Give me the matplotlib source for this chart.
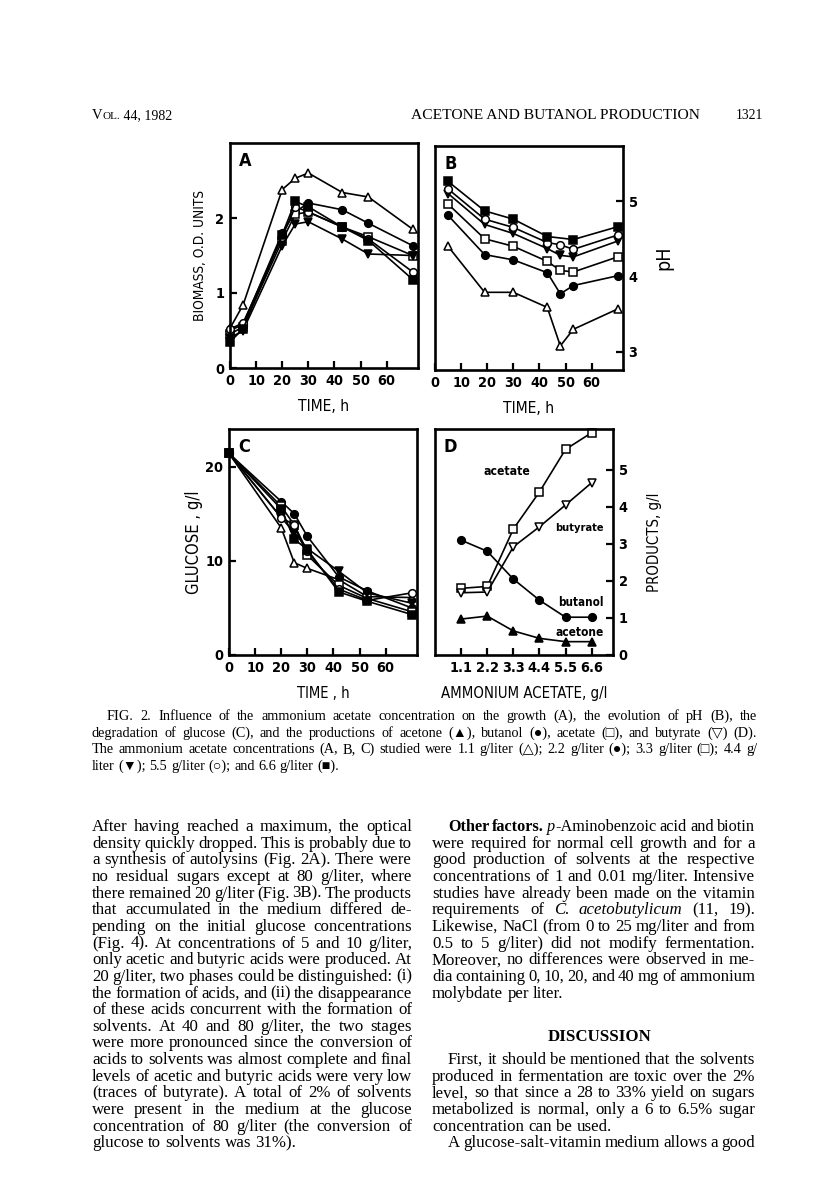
import re
import matplotlib
matplotlib.use('Agg')
import matplotlib.pyplot as plt
from matplotlib import font_manager as fm
import numpy as np

W, H = 816, 1200

# ---------------- data ----------------
# A : biomass (O.D.) vs time for the 6 ammonium acetate concentrations
a_time = [0, 5, 20, 25, 30, 43, 53, 70]
a_11 = [0.53, 0.84, 2.38, 2.53, 2.60, 2.34, 2.28, 1.85]
a_22 = [0.50, 0.58, 1.80, 2.08, 2.20, 2.11, 1.93, 1.63]
a_33 = [0.45, 0.55, 1.70, 2.05, 2.08, 1.88, 1.75, 1.50]
a_44 = [0.40, 0.50, 1.63, 1.92, 1.95, 1.72, 1.52, 1.50]
a_55 = [0.52, 0.60, 1.75, 2.15, 2.08, 1.88, 1.72, 1.28]
a_66 = [0.35, 0.52, 1.78, 2.22, 2.15, 1.88, 1.70, 1.18]

# B : pH vs time
b_time = [5, 19, 30, 43, 48, 53, 70]
b_11 = [4.40, 3.79, 3.79, 3.59, 3.08, 3.30, 3.57]
b_22 = [4.81, 4.29, 4.22, 4.05, 3.77, 3.88, 4.01]
b_33 = [4.96, 4.50, 4.40, 4.20, 4.08, 4.06, 4.26]
b_44 = [5.10, 4.69, 4.57, 4.37, 4.28, 4.26, 4.47]
b_55 = [5.16, 4.76, 4.65, 4.45, 4.42, 4.36, 4.55]
b_66 = [5.26, 4.87, 4.76, 4.53, np.nan, 4.49, 4.66]

# C : glucose vs time
c_time = [0, 20, 25, 30, 42, 53, 70]
c_11 = [21.4, 13.5, 9.8, 9.2, 8.0, 6.2, 6.1]
c_22 = [21.4, 16.3, 15.0, 12.6, 8.3, 6.8, 5.0]
c_33 = [21.4, 15.8, 13.8, 10.6, 7.4, 6.0, 4.6]
c_44 = [21.4, 14.6, 13.0, 11.3, 8.9, 6.6, 5.5]
c_55 = [21.4, 14.6, 13.8, 11.0, 7.0, 5.8, 6.6]
c_66 = [21.4, 15.5, 12.3, 11.2, 6.7, 5.7, 4.3]

# D : products vs ammonium acetate
d_conc = [1.1, 2.2, 3.3, 4.4, 5.5, 6.6]
d_acetate = [1.80, 1.85, 3.40, 4.40, 5.55, 6.00]
d_butyrate = [1.68, 1.70, 2.92, 3.46, 4.05, 4.65]
d_butanol = [3.10, 2.80, 2.05, 1.48, 1.02, 1.02]
d_acetone = [0.97, 1.05, 0.65, 0.45, 0.36, 0.36]

time_ticks = [0, 10, 20, 30, 40, 50, 60]
conc_labels = ['1.1', '2.2', '3.3', '4.4', '5.5', '6.6']

# marker style per concentration: (marker, filled)
styles = [('^', False), ('o', True), ('s', False), ('v', True), ('o', False), ('s', True)]

# ---------------- fonts ----------------
ttf = fm.fontManager.ttflist
if any(f.name == 'Liberation Sans Narrow' for f in ttf):
    CH_FAM, CH_STRETCH = 'Liberation Sans Narrow', 'normal'
elif any(f.name == 'DejaVu Sans' and f.stretch == 'condensed' for f in ttf):
    CH_FAM, CH_STRETCH = 'DejaVu Sans', 'condensed'
else:
    CH_FAM, CH_STRETCH = 'Liberation Sans', 'normal'
CHART = [CH_FAM, 'DejaVu Sans']
SERIF = ['Liberation Serif', 'DejaVu Serif']
plt.rcParams['font.family'] = CHART
plt.rcParams['font.stretch'] = CH_STRETCH
plt.rcParams['font.weight'] = 'bold'

fig = plt.figure(figsize=(W / 100, H / 100), dpi=100)
renderer = fig.canvas.get_renderer()


def measure(txt, size, family=SERIF, weight='normal', style='normal', stretch='normal'):
    t = fig.text(0, 0, txt, fontsize=size, family=family, weight=weight,
                 style=style, stretch=stretch)
    w = t.get_window_extent(renderer).width
    t.remove()
    return w


def chart_size(txt, target_px):
    # font size giving the wanted width in the chart lettering
    return 10 * target_px / measure(txt, 10, CHART, 'bold', stretch=CH_STRETCH)


def axes_px(l, t, r, b):
    return fig.add_axes([l / W, 1 - b / H, (r - l) / W, (b - t) / H])


TICK = chart_size('60', 18)


def frame(ax):
    for s in ax.spines.values():
        s.set_linewidth(1.9)
    ax.tick_params(direction='in', length=5, width=1.6, labelsize=TICK, pad=4)


def series(ax, x, y, marker, filled):
    x = np.asarray(x, float)
    y = np.asarray(y, float)
    ok = np.isfinite(y)
    ax.plot(x[ok], y[ok], '-', color='black', lw=1.2, marker=marker, ms=5.5,
            mfc='black' if filled else 'white', mec='black', mew=1.1, clip_on=False)


def xlab(ax, txt, width):
    ax.set_xlabel(txt, fontsize=chart_size(txt, width), labelpad=8)


def ylab(ax, txt, width, pad):
    ax.set_ylabel(txt, fontsize=chart_size(txt, width), labelpad=pad)


# ---- A ----
axA = axes_px(230, 143, 418, 368)
for ys, (m, f) in zip([a_11, a_22, a_33, a_44, a_55, a_66], styles):
    series(axA, a_time, ys, m, f)
axA.set_xlim(0, 72)
axA.set_ylim(0, 3)
axA.set_xticks(time_ticks)
axA.set_yticks([0, 1, 2])
frame(axA)
xlab(axA, 'TIME, h', 58)
ylab(axA, 'BIOMASS, O.D. UNITS', 148, 6)
axA.text(0.05, 0.96, 'A', transform=axA.transAxes, fontsize=13, va='top')

# ---- B ----
axB = axes_px(435, 146, 623, 370)
for ys, (m, f) in zip([b_11, b_22, b_33, b_44, b_55, b_66], styles):
    series(axB, b_time, ys, m, f)
axB.set_xlim(0, 72)
axB.set_ylim(2.76, 5.73)
axB.set_xticks(time_ticks)
axB.set_yticks([3, 4, 5])
frame(axB)
axB.yaxis.tick_right()
axB.tick_params(axis='y', direction='in', length=5)
axB.yaxis.set_label_position('right')
axB.set_ylabel('pH', fontsize=14, labelpad=12)
xlab(axB, 'TIME, h', 58)
axB.text(0.05, 0.96, 'B', transform=axB.transAxes, fontsize=13, va='top')

# ---- C ----
axC = axes_px(229, 429, 417, 655)
for ys, (m, f) in zip([c_11, c_22, c_33, c_44, c_55, c_66], styles):
    series(axC, c_time, ys, m, f)
axC.set_xlim(0, 72)
axC.set_ylim(0, 24)
axC.set_xticks(time_ticks)
axC.set_yticks([0, 10, 20])
frame(axC)
xlab(axC, 'TIME , h', 60)
ylab(axC, 'GLUCOSE , g/l', 114, 2)
axC.text(0.05, 0.96, 'C', transform=axC.transAxes, fontsize=13, va='top')

# ---- D ----
axD = axes_px(435, 429, 613, 655)
series(axD, d_conc, d_acetate, 's', False)
series(axD, d_conc, d_butyrate, 'v', False)
series(axD, d_conc, d_butanol, 'o', True)
series(axD, d_conc, d_acetone, '^', True)
axD.set_xlim(0, 7.5)
axD.set_ylim(0, 6.1)
axD.set_xticks(d_conc)
axD.set_xticklabels(conc_labels)
axD.set_yticks([0, 1, 2, 3, 4, 5])
frame(axD)
axD.yaxis.tick_right()
axD.tick_params(axis='y', direction='in', length=5)
axD.yaxis.set_label_position('right')
ylab(axD, 'PRODUCTS, g/l', 110, 14)
xlab(axD, 'AMMONIUM ACETATE, g/l', 186)
axD.text(0.05, 0.96, 'D', transform=axD.transAxes, fontsize=13, va='top')
for name, x, y, wpx in [('acetate', 2.03, 4.95, 46), ('butyrate', 5.08, 3.43, 48),
                        ('butanol', 5.20, 1.43, 45), ('acetone', 5.08, 0.62, 48)]:
    axD.text(x, y, name, fontsize=chart_size(name, wpx), va='center')


# ---------------- page text ----------------
def parse(word):
    out = []
    for p in re.split(r'(\*\*[^*]+\*\*|\*[^*]+\*)', word):
        if not p:
            continue
        if p.startswith('**'):
            out.append((p[2:-2], 'b'))
        elif p.startswith('*'):
            out.append((p[1:-1], 'i'))
        else:
            out.append((p, 'n'))
    return out


def wmeas(t, size, s):
    return measure(t, size, SERIF, 'bold' if s == 'b' else 'normal',
                   'italic' if s == 'i' else 'normal')


def put_line(line, x0, x1, ybase, size, justify=True):
    words = [parse(w) for w in line.split()]
    while True:
        widths = [sum(wmeas(t, size, s) for t, s in w) for w in words]
        space = wmeas('a a', size, 'n') - wmeas('aa', size, 'n')
        if not justify or len(words) < 2:
            break
        if sum(widths) + 0.6 * space * (len(words) - 1) <= x1 - x0:
            break
        size *= 0.98
    if justify and len(words) > 1:
        gap = (x1 - x0 - sum(widths)) / (len(words) - 1)
    else:
        gap = space
    x = x0
    for w, wd in zip(words, widths):
        xx = x
        for t, s in w:
            fig.text(xx / W, 1 - ybase / H, t, fontsize=size, family=SERIF, va='baseline',
                     weight='bold' if s == 'b' else 'normal',
                     style='italic' if s == 'i' else 'normal', stretch='normal')
            xx += wmeas(t, size, s)
        x += wd + gap


def put_plain(txt, x, ybase, size, weight='normal', ha='left'):
    fig.text(x / W, 1 - ybase / H, txt, fontsize=size, family=SERIF, weight=weight,
             ha=ha, va='baseline', stretch='normal')
    return measure(txt, size, SERIF, weight)


def fit(txt, width):
    return 10 * width / measure(txt, 10)


# header (small caps "Vol.")
x = 92
x += put_plain('V', x, 119, 10.5)
x += put_plain('OL.', x, 119, 8.0)
put_plain(' 44, 1982', x, 119, 10)
put_plain('ACETONE AND BUTANOL PRODUCTION', 411, 119, fit('ACETONE AND BUTANOL PRODUCTION', 289))
put_plain('1321', 736, 119, 9.8)

# caption
caption = [
    'FIG. 2. Influence of the ammonium acetate concentration on the growth (A), the evolution of pH (B), the',
    'degradation of glucose (C), and the productions of acetone (\u25b2), butanol (\u25cf), acetate (\u25a1), and butyrate (\u25bd) (D).',
    'The ammonium acetate concentrations (A, B, C) studied were 1.1 g/liter (\u25b3); 2.2 g/liter (\u25cf); 3.3 g/liter (\u25a1); 4.4 g/',
    'liter (\u25bc); 5.5 g/liter (\u25cb); and 6.6 g/liter (\u25a0).',
]
for i, line in enumerate(caption):
    x0 = 107 if i == 0 else 92
    put_line(line, x0, 757, 720 + i * 16.6, 10.3, justify=(i < 3))

BODY = 12.2
LS = 16.65

# body, left column
left = [
    'After having reached a maximum, the optical',
    'density quickly dropped. This is probably due to',
    'a synthesis of autolysins (Fig. 2A). There were',
    'no residual sugars except at 80 g/liter, where',
    'there remained 20 g/liter (Fig. 3B). The products',
    'that accumulated in the medium differed de-',
    'pending on the initial glucose concentrations',
    '(Fig. 4). At concentrations of 5 and 10 g/liter,',
    'only acetic and butyric acids were produced. At',
    '20 g/liter, two phases could be distinguished: (i)',
    'the formation of acids, and (ii) the disappearance',
    'of these acids concurrent with the formation of',
    'solvents. At 40 and 80 g/liter, the two stages',
    'were more pronounced since the conversion of',
    'acids to solvents was almost complete and final',
    'levels of acetic and butyric acids were very low',
    '(traces of butyrate). A total of 2% of solvents',
    'were present in the medium at the glucose',
    'concentration of 80 g/liter (the conversion of',
    'glucose to solvents was 31%).',
]
for i, line in enumerate(left):
    put_line(line, 92, 412, 831 + i * LS, BODY, justify=(i < len(left) - 1))

# body, right column
right1 = [
    '**Other** **factors.** *p*-Aminobenzoic acid and biotin',
    'were required for normal cell growth and for a',
    'good production of solvents at the respective',
    'concentrations of 1 and 0.01 mg/liter. Intensive',
    'studies have already been made on the vitamin',
    'requirements of *C.* *acetobutylicum* (11, 19).',
    'Likewise, NaCl (from 0 to 25 mg/liter and from',
    '0.5 to 5 g/liter) did not modify fermentation.',
    'Moreover, no differences were observed in me-',
    'dia containing 0, 10, 20, and 40 mg of ammonium',
    'molybdate per liter.',
]
for i, line in enumerate(right1):
    x0 = 448 if i == 0 else 432
    put_line(line, x0, 755, 831 + i * LS, BODY, justify=(i < len(right1) - 1))

put_plain('DISCUSSION', 600, 1041, BODY, weight='bold', ha='center')

right2 = [
    ('First, it should be mentioned that the solvents', True, True),
    ('produced in fermentation are toxic over the 2%', False, True),
    ('level, so that since a 28 to 33% yield on sugars', False, True),
    ('metabolized is normal, only a 6 to 6.5% sugar', False, True),
    ('concentration can be used.', False, False),
    ('A glucose-salt-vitamin medium allows a good', True, True),
]
for i, (line, indent, just) in enumerate(right2):
    put_line(line, 448 if indent else 432, 755, 1064 + i * LS, BODY, justify=just)

fig.savefig('out.png', dpi=100)
